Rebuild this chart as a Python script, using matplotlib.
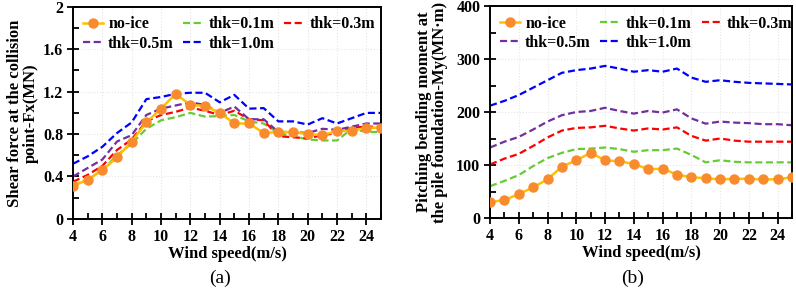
import numpy as np
import matplotlib.pyplot as plt
from matplotlib.ticker import MultipleLocator

plt.rcParams['font.family'] = ['Liberation Serif', 'DejaVu Serif']
plt.rcParams['font.weight'] = 'bold'
plt.rcParams['axes.labelweight'] = 'bold'

# wind speed
wind = np.arange(4, 26)

# (a) shear force at the collision point, MN
fx_noice = [0.31, 0.37, 0.46, 0.58, 0.73, 0.91, 1.04, 1.18, 1.075, 1.066, 1.00,
            0.90, 0.90, 0.81, 0.82, 0.82, 0.80, 0.79, 0.83, 0.83, 0.86, 0.86]
fx_01 = [0.32, 0.37, 0.46, 0.60, 0.71, 0.85, 0.93, 0.96, 1.00, 0.965, 0.97,
         0.98, 0.92, 0.90, 0.81, 0.78, 0.75, 0.74, 0.74, 0.85, 0.82, 0.82]
fx_03 = [0.35, 0.415, 0.50, 0.65, 0.75, 0.92, 0.98, 1.01, 1.05, 1.02, 0.98,
         1.02, 0.94, 0.93, 0.78, 0.77, 0.76, 0.79, 0.81, 0.86, 0.87, 0.87]
fx_05 = [0.40, 0.48, 0.56, 0.73, 0.79, 0.98, 1.04, 1.07, 1.10, 1.075, 1.00,
         1.06, 0.94, 0.94, 0.82, 0.82, 0.81, 0.85, 0.84, 0.87, 0.90, 0.90]
fx_10 = [0.52, 0.59, 0.68, 0.81, 0.91, 1.13, 1.15, 1.18, 1.19, 1.19, 1.10,
         1.17, 1.04, 1.045, 0.92, 0.92, 0.89, 0.95, 0.90, 0.95, 1.00, 1.00]

# (b) pitching bending moment at the pile foundation, MN·m
my_noice = [30, 34, 45, 58, 73, 97, 109, 123, 109, 107, 102,
            92, 93, 82, 77, 75, 73, 74, 74, 73, 73, 77]
my_01 = [60, 70, 81, 98, 113, 123, 130, 131, 133, 130, 125,
         128, 128, 131, 119, 105, 109, 106, 105, 105, 105, 105]
my_03 = [101, 112, 121, 136, 152, 165, 170, 171, 174, 169, 165,
         169, 167, 171, 155, 146, 150, 146, 144, 144, 144, 144]
my_05 = [133, 144, 153, 167, 182, 194, 200, 202, 208, 202, 197,
         202, 199, 205, 188, 178, 182, 180, 179, 177, 177, 175]
my_10 = [212, 221, 232, 246, 260, 274, 279, 282, 287, 282, 276,
         279, 276, 282, 265, 257, 260, 257, 255, 254, 253, 252]

series_names = ['no-ice', 'thk=0.1m', 'thk=0.3m', 'thk=0.5m', 'thk=1.0m']
colors = ['#FFC000', '#66CC33', '#FF0000', '#7030A0', '#0000FF']

x_ticks = [4, 6, 8, 10, 12, 14, 16, 18, 20, 22, 24]
fx_ticks = [0, 0.4, 0.8, 1.2, 1.6, 2]
fx_ticklabels = ['0', '0.4', '0.8', '1.2', '1.6', '2']
my_ticks = [0, 100, 200, 300, 400]

fig = plt.figure(figsize=(7.96, 2.95), dpi=100)
ax1 = fig.add_axes([0.0917, 0.258, 0.387, 0.7186])
ax2 = fig.add_axes([0.6156, 0.261, 0.3794, 0.7186])


def draw(ax, data):
    handles = []
    h, = ax.plot(wind, data[0], color=colors[0], lw=1.8, marker='o',
                 markersize=6.5, markerfacecolor='#F98B2F',
                 markeredgecolor='#F98B2F', zorder=6)
    handles.append(h)
    for vals, c in zip(data[1:], colors[1:]):
        h, = ax.plot(wind, vals, color=c, lw=1.6, ls=(0, (3.2, 1.6)))
        handles.append(h)
    ax.set_xlim(4, 25)
    ax.set_xticks(x_ticks)
    ax.xaxis.set_minor_locator(MultipleLocator(1))
    ax.grid(True, which='major', color='#e6e6e6', ls=':', lw=0.8)
    ax.tick_params(which='major', direction='inout', length=8, width=1.3,
                   labelsize=11.5, pad=3)
    ax.tick_params(which='minor', direction='in', length=4, width=1.3)
    for s in ax.spines.values():
        s.set_linewidth(1.4)
    ax.set_xlabel('Wind speed(m/s)', fontsize=12, labelpad=1)
    # row-major legend order
    order = [0, 3, 1, 4, 2]
    ax.legend([handles[i] for i in order], [series_names[i] for i in order],
              ncol=3, frameon=False, loc='upper left',
              handlelength=1.3, handletextpad=0.3, columnspacing=0.6,
              labelspacing=0.2, borderaxespad=0.3, borderpad=0.3,
              prop={'weight': 'bold', 'size': 11.5})
    for t in ax.get_xticklabels() + ax.get_yticklabels():
        t.set_fontweight('bold')


draw(ax1, [fx_noice, fx_01, fx_03, fx_05, fx_10])
ax1.set_ylim(0, 2)
ax1.set_yticks(fx_ticks)
ax1.set_yticklabels(fx_ticklabels, fontweight='bold')
ax1.yaxis.set_minor_locator(MultipleLocator(0.2))
ax1.set_ylabel('Shear force at the collision\npoint-Fx(MN)', fontsize=12,
               linespacing=1.0, labelpad=3)

draw(ax2, [my_noice, my_01, my_03, my_05, my_10])
ax2.set_ylim(0, 400)
ax2.set_yticks(my_ticks)
ax2.yaxis.set_minor_locator(MultipleLocator(50))
for t in ax2.get_yticklabels():
    t.set_fontweight('bold')
ax2.set_ylabel('Pitching bending moment at\nthe pile foundation-My(MN\u00b7m)',
               fontsize=12, linespacing=1.0, labelpad=6)

fig.text(0.2765, 0.04, '(a)', ha='center', fontsize=14, fontweight='normal')
fig.text(0.795, 0.04, '(b)', ha='center', fontsize=14, fontweight='normal')

fig.savefig('out.png', dpi=100)
